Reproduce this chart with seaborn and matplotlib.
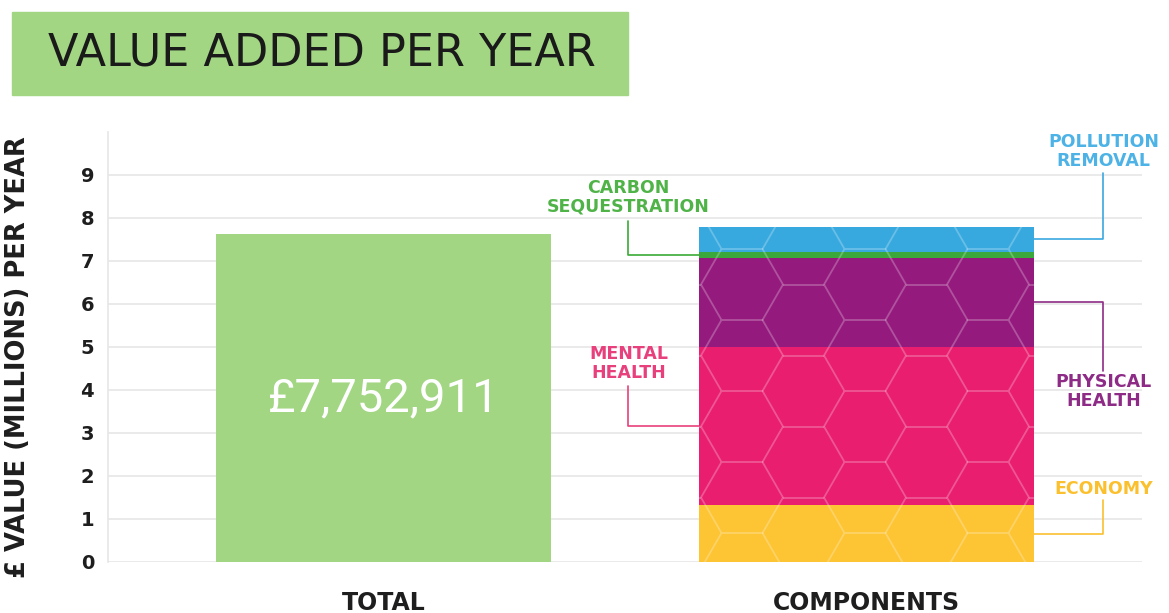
import matplotlib
matplotlib.use('Agg')
import matplotlib.pyplot as plt
import seaborn as sns
import numpy as np
from matplotlib.collections import LineCollection
from matplotlib.patches import Rectangle

# ---------------- data ----------------
categories = ['TOTAL', 'COMPONENTS']
total_value = 7.63
total_label = '£7,752,911'
component_names = ['ECONOMY', 'MENTAL\nHEALTH', 'PHYSICAL\nHEALTH',
                   'CARBON\nSEQUESTRATION', 'POLLUTION\nREMOVAL']
component_values = [1.32, 3.68, 2.07, 0.15, 0.58]
y_ticks = [0, 1, 2, 3, 4, 5, 6, 7, 8, 9]
title = 'VALUE ADDED PER YEAR'
y_label = '£ VALUE (MILLIONS) PER YEAR'

# ---------------- styles ----------------
total_color = '#a2d683'
component_colors = ['#fdc434', '#e91e6f', '#951a7e', '#3aa83a', '#38a9df']
label_colors = ['#fbc02d', '#e8407c', '#8e2b86', '#4fb348', '#4db3e6']
dark = '#1e1e1e'
grid_c = '#e6e6e6'
BAR_W = 0.694

sns.set_theme(style='white')
plt.rcParams['font.family'] = ['DejaVu Sans']

fig = plt.figure(figsize=(11.69, 6.13), dpi=100)
ax = fig.add_axes([0.0924, 0.0832, 0.8846, 0.7015])

# total bar
sns.barplot(x=[categories[0]], y=[total_value], order=categories, color=total_color,
            saturation=1, width=BAR_W, errorbar=None, linewidth=0, zorder=2, ax=ax)

# stacked components (drawn from the tallest cumulative layer down)
cum = np.cumsum(component_values)
comp_patch = None
for i in range(len(component_values) - 1, -1, -1):
    sns.barplot(x=[categories[1]], y=[cum[i]], order=categories, color=component_colors[i],
                saturation=1, width=BAR_W, errorbar=None, linewidth=0, zorder=2, ax=ax)
    if comp_patch is None:
        comp_patch = ax.patches[-1]

ax.set_xlim(-0.57, 1.57)
ax.set_ylim(0, 10)

# hexagon decorative overlay on components bar (figure inches)
s, h = 0.41, 0.71
x_off, y_off = 7.42, 1.865 - 4 * 0.71
segs = []
for i in range(-16, 16):
    cx = x_off + i * 1.5 * s
    for j in range(-2, 14):
        cy = y_off + j * h + (i % 2) * h / 2
        segs.append([(cx - s / 2, cy + h / 2), (cx + s / 2, cy + h / 2)])
        segs.append([(cx + s / 2, cy + h / 2), (cx + s, cy)])
        segs.append([(cx + s, cy), (cx + s / 2, cy - h / 2)])
lc = LineCollection(segs, colors='white', alpha=0.25, linewidths=1.3,
                    transform=fig.dpi_scale_trans, zorder=3)
ax.add_collection(lc, autolim=False)
lc.set_clip_path(comp_patch)

# total label
ax.text(0, total_value / 2, total_label, ha='center', va='center', color='white',
        fontsize=34, family=['Roboto', 'DejaVu Sans'], zorder=4)

# annotations with leader lines
bl = 1 - BAR_W / 2
br = 1 + BAR_W / 2
xl, xr = 0.507, 1.49
mids = cum - np.array(component_values) / 2
lw = 1.2
fs = 12.5
# economy
ax.plot([br, xr, xr], [mids[0], mids[0], 1.44], color=label_colors[0], lw=lw, zorder=1, clip_on=False)
ax.text(xr, 1.69, component_names[0], color=label_colors[0], ha='center', va='center',
        fontsize=fs, fontweight='bold', linespacing=1.05)
# mental
ax.plot([bl, xl, xl], [mids[1], mids[1], 4.1], color=label_colors[1], lw=lw, zorder=1, clip_on=False)
ax.text(xl, 4.62, component_names[1], color=label_colors[1], ha='center', va='center',
        fontsize=fs, fontweight='bold', linespacing=1.05)
# physical
ax.plot([br, xr, xr], [mids[2], mids[2], 4.45], color=label_colors[2], lw=lw, zorder=1, clip_on=False)
ax.text(xr, 3.97, component_names[2], color=label_colors[2], ha='center', va='center',
        fontsize=fs, fontweight='bold', linespacing=1.05)
# carbon
ax.plot([bl, xl, xl], [mids[3], mids[3], 7.94], color='#3aaa35', lw=lw, zorder=1, clip_on=False)
ax.text(xl, 8.49, component_names[3], color=label_colors[3], ha='center', va='center',
        fontsize=fs, fontweight='bold', linespacing=1.05)
# pollution
ax.plot([br, xr, xr], [mids[4], mids[4], 9.05], color='#3aa8e0', lw=lw, zorder=1, clip_on=False)
ax.text(xr, 9.54, component_names[4], color=label_colors[4], ha='center', va='center',
        fontsize=fs, fontweight='bold', linespacing=1.05, clip_on=False)

# axes styling
ax.set_axisbelow(True)
ax.yaxis.grid(True, color=grid_c, lw=1.2)
ax.xaxis.grid(False)
for sp in ['top', 'right', 'bottom']:
    ax.spines[sp].set_visible(False)
ax.spines['left'].set_color(grid_c)
ax.spines['left'].set_linewidth(1.2)
ax.set_yticks(y_ticks)
ax.set_yticklabels([str(t) for t in y_ticks], fontsize=14, fontweight='bold', color=dark)
ax.set_xticks([0, 1])
ax.set_xticklabels(categories, fontsize=17, fontweight='bold', color=dark)
ax.tick_params(axis='y', length=0, pad=10)
ax.tick_params(axis='x', length=0, pad=21)
ax.set_xlabel('')
ax.set_ylabel(y_label, fontsize=18.5, fontweight='bold', color=dark)
ax.yaxis.set_label_coords(-0.0745, 0.477)

# title box
fig.add_artist(Rectangle((0.01027, 0.845), 0.527, 0.1354, transform=fig.transFigure,
                         color=total_color, zorder=0))
fig.text(0.2755, 0.9135, title, ha='center', va='center', fontsize=32, color='#1a1a1a')

fig.savefig('out.png', dpi=100)
